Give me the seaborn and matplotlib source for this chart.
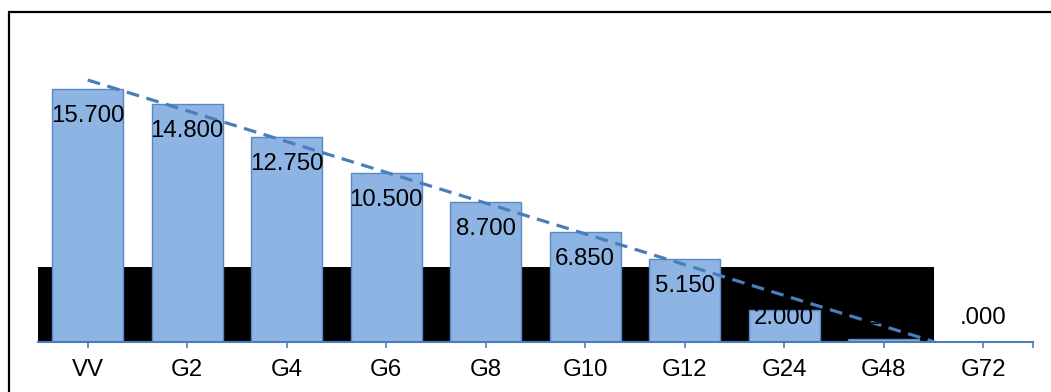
import numpy as np
import pandas as pd
import matplotlib
matplotlib.use("Agg")
import matplotlib.pyplot as plt
from matplotlib.patches import Rectangle
import seaborn as sns

# Chart data
categories = ["VV", "G2", "G4", "G6", "G8", "G10", "G12", "G24", "G48", "G72"]
values = [15.7, 14.8, 12.75, 10.5, 8.7, 6.85, 5.15, 2.0, 0.2, 0.0]

sns.set_theme(style="white")
plt.rcParams["font.family"] = ["Liberation Sans", "DejaVu Sans"]

W, H, DPI = 1051, 392, 100
fig = plt.figure(figsize=(W / DPI, H / DPI), dpi=DPI)

# plot area in pixels
left_px, right_px, base_px, top_px = 38, 1033, 342, 52
ax = fig.add_axes([left_px / W, (H - base_px) / H,
                   (right_px - left_px) / W, (base_px - top_px) / H])

bar_fill = "#8EB4E3"
bar_edge = "#5B87C5"
line_blue = "#4A7EBB"
FS = 17.3

df = pd.DataFrame({"cat": categories, "val": values})
sns.barplot(data=df, x="cat", y="val", color=bar_fill, saturation=1,
            width=0.71, edgecolor=bar_edge, linewidth=1.0, ax=ax, zorder=2)

ax.set_xlim(-0.5, len(categories) - 0.5)
ax.set_ylim(0, 18)

# black band behind the bars
ax.add_patch(Rectangle((-0.5, 0), 9.0, 4.65, facecolor="black",
                       edgecolor="none", zorder=1))

# linear trend line, clipped at the axis floor
xs = np.arange(len(values))
slope, intercept = np.polyfit(xs, values, 1)
x_end = min(-intercept / slope, len(values) - 1)
ax.plot([0, x_end], [intercept, intercept + slope * x_end], color=line_blue,
        lw=2.3, ls=(0, (4, 2.4)), zorder=4, solid_capstyle="butt",
        dash_capstyle="butt")

# value labels inside the bar ends
def fmt(v):
    s = f"{v:.3f}"
    return s[1:] if s.startswith("0") else s

for i, v in enumerate(values):
    ax.annotate(fmt(v), xy=(i, max(v, 3.15)), xytext=(0, -27 * 0.72),
                textcoords="offset points", ha="center", va="center",
                fontsize=FS, color="black", zorder=5)

# axes styling
for s in ("left", "top", "right"):
    ax.spines[s].set_visible(False)
ax.spines["bottom"].set_color(line_blue)
ax.spines["bottom"].set_linewidth(1.5)
ax.spines["bottom"].set_zorder(6)
ax.set_yticks([])
ax.set_xlabel("")
ax.set_ylabel("")
ax.set_xticks(xs)
ax.set_xticks([len(values) - 0.5], minor=True)
ax.tick_params(axis="x", which="both", direction="out", length=4, width=1.2,
               color=line_blue, bottom=True)
ax.tick_params(axis="x", which="major", labelsize=FS, pad=8,
               labelcolor="black")
ax.set_facecolor("none")

# outer frame
fig.patches.append(Rectangle((9, -20), W + 40, H - 12 + 20,
                             transform=None, fill=False, edgecolor="black",
                             linewidth=1.6, figure=fig))

fig.savefig("out.png", dpi=DPI)
